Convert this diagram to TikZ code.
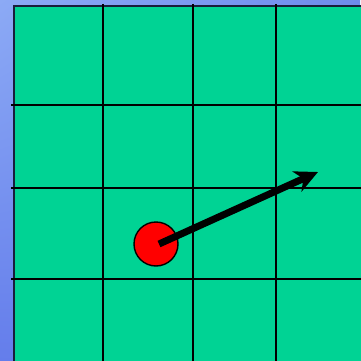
\documentclass[tikz,border=0pt]{standalone}
\usetikzlibrary{arrows.meta,shadings}
\definecolor{bgtl}{RGB}{140,170,245}
\definecolor{bgtr}{RGB}{110,140,236}
\definecolor{bgbl}{RGB}{100,125,235}
\definecolor{bgbr}{RGB}{105,130,235}
\definecolor{field}{RGB}{0,211,148}
\definecolor{edge}{RGB}{25,30,60}
\tikzset{
  gridline/.style={line width=2.6pt, black},
  ballstyle/.style={circle, draw=black, line width=1.4pt, fill=red, minimum size=44pt, inner sep=0pt},
  vec/.style={line width=7pt, -{Stealth[length=23pt,width=22pt,inset=7pt]}}
}
\begin{document}
\begin{tikzpicture}[x=1pt,y=-1pt]
\useasboundingbox (0,0) rectangle (360,361);
\shade[upper left=bgtl, upper right=bgtr, lower left=bgbl, lower right=bgbr] (0,0) rectangle (360,361);
\fill[field] (14,6) rectangle (364,365);
\draw[edge, line width=2pt] (14,364) -- (14,6) -- (364,6);
% grid
\foreach \x in {103,193,276} \draw[gridline] (\x,4) -- (\x,365);
\foreach \y in {105,188,279} \draw[gridline] (11,\y) -- (365,\y);
% ball and velocity
\node[ballstyle] (ball) at (156,244) {};
\coordinate (tip) at (318,172);
\draw[vec] ([shift={(3pt,0pt)}]ball.center) -- (tip);
\end{tikzpicture}
\end{document}
